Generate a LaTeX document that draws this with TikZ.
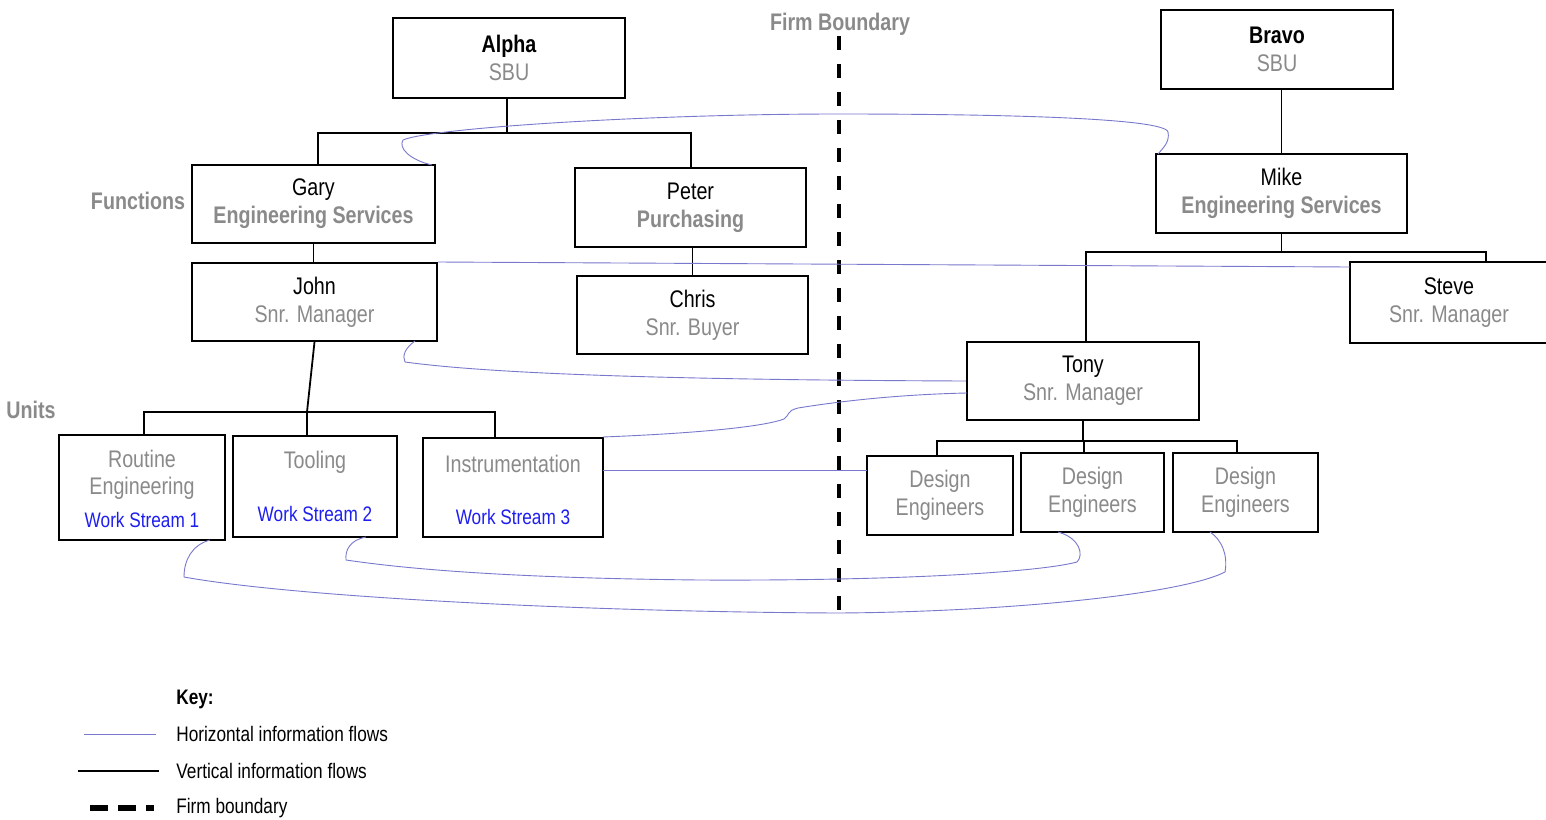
\documentclass[tikz,border=0pt]{standalone}
\usepackage{fontspec}
\setmainfont{Liberation Sans}[FakeStretch=0.82]
\definecolor{txtgray}{RGB}{138,138,138}
\definecolor{wsblue}{RGB}{30,30,240}
\definecolor{flowc}{RGB}{120,120,205}
\begin{document}
\begin{tikzpicture}[x=0.5pt,y=-0.5pt,
  box/.style n args={2}{draw, line width=1pt, align=center, inner sep=0pt,
     minimum width=#1, minimum height=#2, font=\fontsize{12}{14}\selectfont},
  unit/.style={align=center, inner sep=0pt, text=txtgray, font=\fontsize{12}{13.5}\selectfont},
  ws/.style={inner sep=0pt, text=wsblue, font=\fontsize{10.5}{12}\selectfont},
  lab/.style={inner sep=0pt, text=txtgray, font=\fontsize{12}{14}\selectfont\bfseries},
  keyt/.style={inner sep=0pt, anchor=west, font=\fontsize{10.5}{12}\selectfont},
  vline/.style={line width=0.9pt},
  flow/.style={draw=flowc, line width=0.45pt},
  firm/.style={line width=2pt, dash pattern=on 7pt off 7pt}]
\fill[white] (0,0) rectangle (1546,819);
\useasboundingbox (0,0) rectangle (1546,819);

% boxes
\node[box={116pt}{40pt}] (alpha) at (509,58) {{\bfseries Alpha}\\{\color{txtgray}SBU}};
\node[box={116pt}{39.5pt}] (bravo) at (1277,49.5) {{\bfseries Bravo}\\{\color{txtgray}SBU}};
\node[box={121.5pt}{39pt}] (gary) at (313.5,204) {Gary\\{\color{txtgray}\bfseries Engineering Services}};
\node[box={115.5pt}{39.5pt}] (peter) at (690.5,207.5) {Peter\\{\color{txtgray}\bfseries Purchasing}};
\node[box={122.5pt}{39pt}] (john) at (314.5,302) {John\\{\color{txtgray}Snr. Manager}};
\node[box={115.5pt}{39pt}] (chris) at (692.5,315) {Chris\\{\color{txtgray}Snr. Buyer}};
\node[box={125.5pt}{39.5pt}] (mike) at (1281.5,193.5) {Mike\\{\color{txtgray}\bfseries Engineering Services}};
\node[box={99pt}{40.5pt}] (steve) at (1449,302.5) {Steve\\{\color{txtgray}Snr. Manager}};
\node[box={116pt}{39pt}] (tony) at (1083,381) {Tony\\{\color{txtgray}Snr. Manager}};
\node[box={73pt}{39.5pt}, text=txtgray] (de1) at (940,495.5) {Design\\Engineers};
\node[box={71.5pt}{39.5pt}, text=txtgray] (de2) at (1092.5,492.5) {Design\\Engineers};
\node[box={72.5pt}{39.5pt}, text=txtgray] (de3) at (1245.5,492.5) {Design\\Engineers};

\node[box={83pt}{52.5pt}] (routine) at (142,487.5) {};
\node[box={82pt}{50.5pt}] (tooling) at (315,486.5) {};
\node[box={90pt}{49.5pt}] (instr) at (513,487.5) {};
\node[unit] (routineT) at (142,474.5) {Routine\\Engineering};
\node[ws] (ws1) at (142,520) {Work Stream 1};
\node[unit] (toolingT) at (315,462) {Tooling};
\node[ws] (ws2) at (315,514) {Work Stream 2};
\node[unit] (instrT) at (513,464) {Instrumentation};
\node[ws] (ws3) at (513,517) {Work Stream 3};

% labels
\node[lab] (firmlab) at (840,24) {Firm Boundary};
\node[lab] (functions) at (138,201) {Functions};
\node[lab] (units) at (31,410) {Units};

% vertical (tree) lines
\coordinate (abar) at (507,133);
\draw[vline] (alpha.south -| abar) -- (abar);
\draw[vline] (318,165) |- (abar) -| (peter.north -| 691,0);
\draw[vline] (gary.south) -- (gary.south |- john.north);
\draw[vline] (chris.north |- peter.south) -- (chris.north);
\coordinate (jbarM) at (307,412);
\coordinate (jbarL) at (144,412);
\coordinate (jbarR) at (495,412);
\draw[vline] (john.south) -- (jbarM);
\draw[vline] (jbarL |- routine.north) -- (jbarL) -- (jbarR) -- (jbarR |- instr.north);
\draw[vline] (jbarM) -- (jbarM |- tooling.north);
\draw[vline] (mike.north |- bravo.south) -- (mike.north);
\coordinate (mbarL) at (1086,252);
\coordinate (mbarR) at (1486,252);
\draw[vline] (mike.south) -- (mike.south |- mbarL);
\draw[vline] (mbarL |- tony.north) -- (mbarL) -- (mbarR) -- (mbarR |- steve.north);
\coordinate (tbarL) at (937,441);
\coordinate (tbarM) at (1084,441);
\coordinate (tbarR) at (1237,441);
\draw[vline] (tony.south) -- (tony.south |- tbarM);
\draw[vline] (tbarL |- de1.north) -- (tbarL) -- (tbarR) -- (tbarR |- de3.north);
\draw[vline] (tbarM) -- (tbarM |- de2.north);

% firm boundary
\coordinate (fbtop) at (839,36);
\coordinate (fbbot) at (839,612);
\draw[firm] (fbtop) -- (fbbot);

% horizontal information flows
\draw[flow] (432,165) .. controls (410,160) and (398,148) .. (403,140)
  .. controls (430,128) and (650,114) .. (838,114)
  .. controls (1000,114) and (1165,118) .. (1168,132)
  .. controls (1170,142) and (1163,148) .. (1158,154);
\coordinate (steveL) at (1350,267);
\draw[flow] (john.north east) -- (steveL);
\draw[flow] (415,341) .. controls (405,348) and (402,356) .. (405,362)
  .. controls (500,375) and (700,380) .. (tony.west);
\coordinate (tonyL2) at (967,393);
\draw[flow] (603,437) .. controls (680,434) and (760,428) .. (784,419)
  .. controls (790,415) and (786,411) .. (798,408)
  .. controls (860,398) and (920,394) .. (tonyL2);
\coordinate (instrR) at (603,470);
\coordinate (de1L) at (867,470);
\draw[flow] (instrR) -- (de1L);
\draw[flow] (366,537) .. controls (350,540) and (345,550) .. (346,560)
  .. controls (400,568) and (500,578) .. (700,580)
  .. controls (900,581) and (1040,572) .. (1077,562)
  .. controls (1084,555) and (1080,538) .. (1058,532);
\draw[flow] (210,540) .. controls (192,545) and (184,560) .. (184,577)
  .. controls (300,598) and (600,612) .. (838,613)
  .. controls (1000,612) and (1180,595) .. (1225,572)
  .. controls (1228,555) and (1222,540) .. (1210,532);

% key
\node[keyt] (keyhead) at (176,699) {\bfseries Key:};
\node[keyt] (key1) at (176,734) {Horizontal information flows};
\node[keyt] (key2) at (176,771) {Vertical information flows};
\node[keyt] (key3) at (176,808) {Firm boundary};
\coordinate (k1a) at (84,734); \coordinate (k1b) at (156,734);
\coordinate (k2a) at (78,771); \coordinate (k2b) at (159,771);
\coordinate (k3a) at (90,808); \coordinate (k3b) at (154,808);
\draw[flow] (k1a) -- (k1b);
\draw[line width=1pt] (k2a) -- (k2b);
\draw[line width=3pt, dash pattern=on 9pt off 5pt] (k3a) -- (k3b);
\end{tikzpicture}
\end{document}
